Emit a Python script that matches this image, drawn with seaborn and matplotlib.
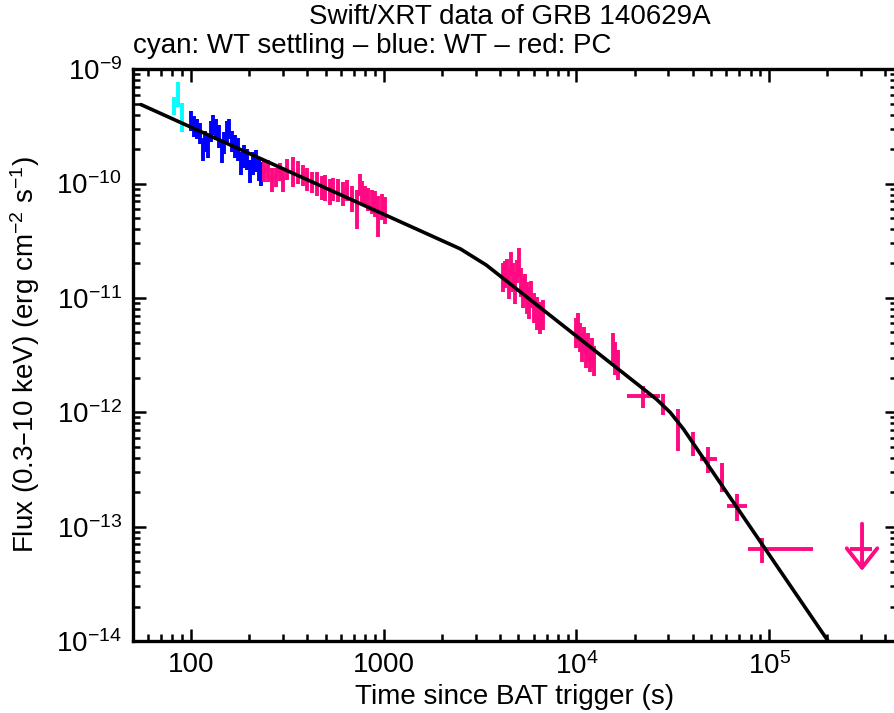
import numpy as np
import matplotlib
matplotlib.use("Agg")
import matplotlib.pyplot as plt
import seaborn as sns

# WT settling (cyan)
t_settle = [81.6, 85.6, 89.8]
terr_settle = [1.2, 1.2, 1.2]
f_settle = [4.84e-10, 6.17e-10, 3.95e-10]
ferr_settle = [0.85e-10, 1.5e-10, 1.1e-10]

# WT (blue)
t_wt = [100, 103.6, 107.4, 111.4, 115.4, 118.2, 122.5, 127.0, 130.1, 134.8,
        139.7, 144.8, 148.3, 153.7, 157.4, 163.2, 169.1, 175.3, 181.7, 188.4,
        195.3, 202.4, 209.8, 217.5, 225.4, 230.8]
terr_wt = [1.5, 1.5, 1.5, 1.5, 1.5, 1.5, 1.5, 1.5, 1.5, 1.5,
           1.5, 1.5, 1.5, 1.5, 1.5, 2, 2, 2, 2, 2,
           2, 2, 2, 2, 2, 2]
f_wt = [3.57e-10, 3.23e-10, 3.04e-10, 2.81e-10, 2.03e-10, 2.39e-10, 2.16e-10,
        2.92e-10, 3.30e-10, 3.04e-10, 2.64e-10, 1.95e-10, 2.30e-10, 2.92e-10,
        3.04e-10, 2.39e-10, 2.16e-10, 2.03e-10, 1.53e-10, 1.77e-10, 1.66e-10,
        1.31e-10, 1.53e-10, 1.60e-10, 1.36e-10, 1.25e-10]
ferr_wt = [0.7e-10, 0.7e-10, 0.6e-10, 0.6e-10, 0.45e-10, 0.5e-10, 0.5e-10,
           0.6e-10, 0.65e-10, 0.65e-10, 0.6e-10, 0.45e-10, 0.5e-10, 0.6e-10,
           0.6e-10, 0.5e-10, 0.5e-10, 0.45e-10, 0.35e-10, 0.4e-10, 0.35e-10,
           0.3e-10, 0.35e-10, 0.35e-10, 0.3e-10, 0.3e-10]

# PC (red)
t_pc = [239, 251, 263, 276, 290, 300, 315, 338, 359, 381, 400, 425, 451, 479,
        496, 526, 546, 579, 615, 645, 685, 727, 754, 772, 800, 829, 869, 902,
        935, 980, 1016,
        4159, 4266, 4365, 4470, 4578, 4688, 4803, 4918, 5036, 5158, 5282, 5410,
        5540, 5674, 5816, 6026, 6252, 6475, 6714,
        9954, 10200, 10450, 10700, 10960, 11230, 11500, 11780, 12060, 12350,
        15490, 15870, 16440,
        22180, 28180, 33680, 40280, 48170, 57020, 68190, 91900]
terr_pc_lo = [6, 6, 7, 7, 10, 8, 8, 9, 9, 10, 10, 11, 11, 12,
              12, 13, 13, 14, 15, 15, 16, 17, 12, 12, 12, 12, 13, 14,
              14, 15, 16,
              50, 50, 50, 50, 50, 55, 55, 55, 55, 55, 60, 60,
              60, 60, 60, 65, 65, 70, 70,
              120, 120, 120, 120, 120, 120, 120, 120, 120, 120,
              200, 200, 200,
              3860, 700, 550, 650, 4340, 900, 7660, 14100]
terr_pc_hi = [6, 6, 7, 7, 10, 8, 8, 9, 9, 10, 10, 11, 11, 12,
              12, 13, 13, 14, 15, 15, 16, 17, 12, 12, 12, 12, 13, 14,
              14, 15, 16,
              50, 50, 50, 50, 50, 55, 55, 55, 55, 55, 60, 60,
              60, 60, 60, 65, 65, 70, 70,
              120, 120, 120, 120, 120, 120, 120, 120, 120, 120,
              200, 200, 200,
              4980, 700, 550, 650, 5530, 900, 8710, 77100]
f_pc = [1.31e-10, 1.31e-10, 1.11e-10, 1.16e-10, 1.28e-10, 1.07e-10, 1.36e-10,
        1.31e-10, 1.28e-10, 1.21e-10, 1.11e-10, 1.04e-10, 1.02e-10, 9.44e-11,
        9.44e-11, 8.71e-11, 9.08e-11, 8.89e-11, 8.37e-11, 8.89e-11, 7.57e-11,
        6.44e-11, 1.00e-10, 8.71e-11, 7.89e-11, 7.42e-11, 7.13e-11, 6.84e-11,
        5.60e-11, 6.44e-11, 6.07e-11,
        1.57e-11, 1.67e-11, 1.81e-11, 1.42e-11, 2.04e-11, 1.57e-11, 1.28e-11,
        1.74e-11, 2.12e-11, 1.42e-11, 1.16e-11, 1.28e-11, 1.05e-11, 9.49e-12,
        1.11e-11, 8.58e-12, 7.76e-12, 7.02e-12, 7.45e-12,
        5.18e-12, 5.73e-12, 4.69e-12, 3.83e-12, 4.41e-12, 3.46e-12, 3.83e-12,
        3.13e-12, 3.46e-12, 2.94e-12,
        3.83e-12, 3.13e-12, 2.72e-12,
        1.40e-12, 1.19e-12, 7.62e-13, 5.42e-13, 3.93e-13, 2.79e-13, 1.52e-13,
        6.38e-14]
ferr_pc = [0.28e-10, 0.28e-10, 0.27e-10, 0.22e-10, 0.22e-10, 0.22e-10, 0.28e-10,
           0.38e-10, 0.28e-10, 0.25e-10, 0.25e-10, 0.22e-10, 0.24e-10, 0.22e-10,
           0.24e-10, 0.22e-10, 0.2e-10, 0.2e-10, 0.2e-10, 0.19e-10, 0.19e-10,
           0.24e-10, 0.22e-10, 0.19e-10, 0.17e-10, 0.17e-10, 0.17e-10, 0.17e-10,
           0.22e-10, 0.16e-10, 0.16e-10,
           0.45e-11, 0.45e-11, 0.4e-11, 0.45e-11, 0.5e-11, 0.45e-11, 0.4e-11,
           0.4e-11, 0.6e-11, 0.4e-11, 0.35e-11, 0.35e-11, 0.33e-11, 0.3e-11,
           0.3e-11, 0.25e-11, 0.25e-11, 0.22e-11, 0.22e-11,
           1.5e-12, 1.6e-12, 1.3e-12, 1.1e-12, 1.2e-12, 1.0e-12, 1.1e-12,
           0.9e-12, 1.0e-12, 0.85e-12,
           1.1e-12, 1.0e-12, 0.8e-12,
           0.3e-12, 0.25e-12, 0.3e-12, 1.3e-13, 1.0e-13, 0.8e-13, 0.4e-13,
           1.6e-14]

# PC upper limit
ul_t = [303000]
ul_terr_lo = [40000]
ul_terr_hi = [39000]
ul_f = [6.4e-14]
ul_top = [1.06e-13]
ul_tip = [4.1e-14]

# broken power-law model
model_t = [55, 2500, 2890, 3400, 26000, 30600, 36000, 2.5e5]
model_f = [4.9e-10, 2.68e-11, 2.3e-11, 1.94e-11, 1.30e-12, 1.0e-12, 7.08e-13, 5.9e-15]

x_ticks = [100, 1000, 1e4, 1e5]
x_labels = ["100", "1000", "10$^4$", "10$^5$"]
y_ticks = [1e-14, 1e-13, 1e-12, 1e-11, 1e-10, 1e-9]
y_labels = ["10$^{-14}$", "10$^{-13}$", "10$^{-12}$", "10$^{-11}$", "10$^{-10}$", "10$^{-9}$"]

CYAN = "#00ffff"
BLUE = "#0000ff"
PINK = "#ff0a82"

sns.set_theme(style="ticks")
plt.rcParams["font.family"] = ["Liberation Sans", "DejaVu Sans"]
plt.rcParams["mathtext.default"] = "regular"

fig = plt.figure(figsize=(8.95, 7.13), dpi=100)
ax = fig.add_axes([0.1486, 0.101, 0.8536, 0.802])
ax.set_xscale("log")
ax.set_yscale("log")

eb = dict(fmt="none", elinewidth=2.8, capsize=0)
ax.errorbar(t_settle, f_settle, xerr=terr_settle, yerr=ferr_settle, ecolor=CYAN, **eb)
ax.errorbar(t_wt, f_wt, xerr=terr_wt, yerr=ferr_wt, ecolor=BLUE, **eb)
ax.errorbar(t_pc, f_pc, xerr=[terr_pc_lo, terr_pc_hi], yerr=ferr_pc, ecolor=PINK, **eb)

# upper limit: horizontal bin + downward arrow
ax.errorbar(ul_t, ul_f, xerr=[ul_terr_lo, ul_terr_hi], ecolor=PINK, **eb)
for t, top, tip in zip(ul_t, ul_top, ul_tip):
    ax.annotate("", xy=(t, tip), xytext=(t, top),
                arrowprops=dict(arrowstyle="->,head_length=0.7,head_width=0.55",
                                color=PINK, lw=2.8, mutation_scale=20,
                                shrinkA=0, shrinkB=0))

sns.lineplot(x=model_t, y=model_f, ax=ax, color="black", lw=2.6,
             estimator=None, sort=False, zorder=5)

ax.set_xlim(50, 4.6e5)
ax.set_ylim(1e-14, 1e-9)
ax.set_xticks(x_ticks, x_labels)
ax.set_yticks(y_ticks, y_labels)
ax.xaxis.set_minor_locator(matplotlib.ticker.LogLocator(base=10, subs=np.arange(2, 10), numticks=20))
ax.yaxis.set_minor_locator(matplotlib.ticker.LogLocator(base=10, subs=np.arange(2, 10), numticks=20))
ax.xaxis.set_minor_formatter(matplotlib.ticker.NullFormatter())
ax.yaxis.set_minor_formatter(matplotlib.ticker.NullFormatter())

ax.tick_params(which="both", direction="in", top=True, right=True,
               width=1.8, color="black", labelsize=20, pad=8, labelcolor="black")
ax.tick_params(which="major", length=9)
ax.tick_params(which="minor", length=5)
for s in ax.spines.values():
    s.set_linewidth(2.4)
    s.set_color("black")

ax.set_xlabel("Time since BAT trigger (s)", fontsize=20, labelpad=3, color="black")
ax.set_ylabel("Flux (0.3\u201310 keV) (erg cm$^{-2}$ s$^{-1}$)", fontsize=20,
              labelpad=10, color="black")

fig.text(0.57, 0.976, "Swift/XRT data of GRB 140629A", ha="center", va="center",
         fontsize=20, color="black")
fig.text(0.1486, 0.935, "cyan: WT settling \u2013 blue: WT \u2013 red: PC", ha="left",
         va="center", fontsize=20, color="black")

fig.savefig("out.png", dpi=100, facecolor="white")
